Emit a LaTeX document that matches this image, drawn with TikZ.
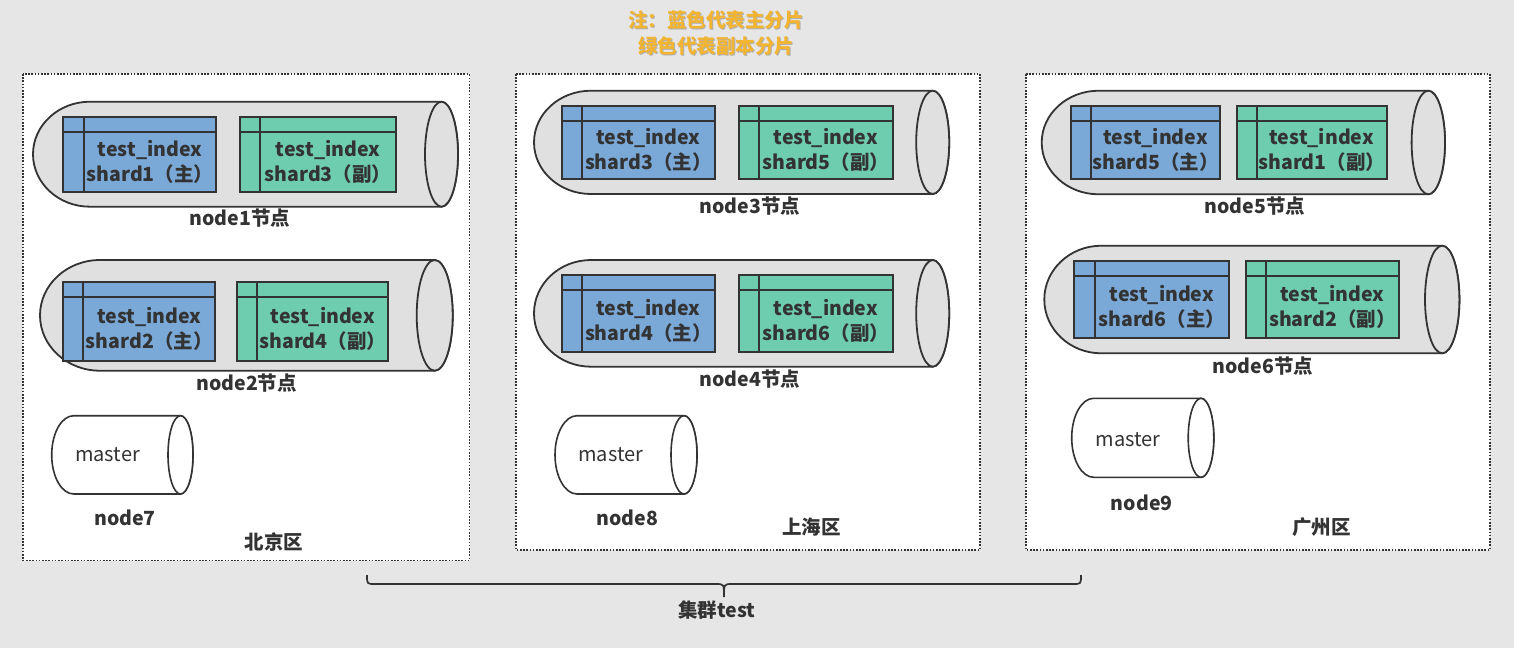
\documentclass[tikz,border=0pt]{standalone}
\usepackage{fontspec}
\setmainfont{Noto Sans CJK SC}
\definecolor{bgc}{HTML}{E6E6E6}
\definecolor{ink}{HTML}{333333}
\definecolor{cylc}{HTML}{E0E0E0}
\definecolor{blu}{HTML}{7AA9D8}
\definecolor{grn}{HTML}{6ECCAF}
\definecolor{noteo}{HTML}{F2B431}
\definecolor{shad}{HTML}{B0B0B0}
\tikzset{
  panel/.style={draw=ink, fill=white, line width=1.6pt, dash pattern=on 1.6pt off 1.6pt},
  cylst/.style={draw=ink, fill=cylc, line width=1.8pt},
  mcylst/.style={draw=ink, fill=white, line width=1.6pt},
  boxst/.style={draw=ink, line width=2pt},
  shtxt/.style={text=ink, align=center, inner sep=0pt, font={\fontsize{19.5}{25}\selectfont\bfseries}},
  lbl/.style={text=ink, inner sep=0pt, font={\fontsize{19.5}{21}\selectfont\bfseries}},
  mtxt/.style={text=ink, inner sep=0pt, font={\fontsize{20}{21}\selectfont}},
  notetxt/.style={inner sep=0pt, align=center, font={\fontsize{19.5}{26}\selectfont\bfseries}},
}
% horizontal cylinder: #1 left x, #2 top y, #3 bottom y, #4 ellipse centre x, #5 ellipse rx, #6 left cap rx, #7 style
\newcommand\hcyl[7]{%
  \pgfmathsetmacro\cymid{(#2+#3)/2}%
  \pgfmathsetmacro\cyry{(#3-#2)/2}%
  \draw[#7] (#1+#6,-#2) -- (#4,-#2) arc[start angle=90,end angle=-90,x radius=#5,y radius=\cyry]
     -- (#1+#6,-#3) arc[start angle=270,end angle=90,x radius=#6,y radius=\cyry] -- cycle;
  \draw[#7] (#4,-\cymid) ellipse[x radius=#5,y radius=\cyry];
}
% shard box: #1 name, #2 x1, #3 y1, #4 x2, #5 y2, #6 vertical x, #7 colour, #8 second line
\newcommand\shardbox[8]{%
  \draw[boxst, fill=#7] (#2,-#3) rectangle (#4,-#5);
  \draw[boxst] (#2,-#3-15) -- (#4,-#3-15);
  \draw[boxst] (#6,-#3) -- (#6,-#5);
  \node[shtxt] (#1) at ({(#6+#4)/2},{-(#3+15+#5)/2}) {test\_index\\#8};
}
\begin{document}
\begin{tikzpicture}[x=1pt,y=1pt]
\fill[bgc] (0,0) rectangle (1514,-648);
\useasboundingbox (0,0) rectangle (1514,-648);

% note
\node[notetxt, text=shad] at (717.2,-34.2) {注：蓝色代表主分片\\绿色代表副本分片};
\node[notetxt, text=noteo] (note) at (716,-33) {注：蓝色代表主分片\\绿色代表副本分片};

% panels
\draw[panel] (23,-74) rectangle (469.5,-560.5);
\draw[panel] (516,-74) rectangle (980,-550);
\draw[panel] (1026,-74) rectangle (1490,-550);

% ---------- 北京区 ----------
\hcyl{33}{101.7}{206.7}{441.5}{16.5}{57}{cylst}
\shardbox{s11}{63.3}{116.7}{216}{192}{84}{blu}{shard1（主）}
\shardbox{s12}{240}{116.7}{396}{192}{260}{grn}{shard3（副）}
\node[lbl] (n1) at (240,-218) {node1节点};

\hcyl{40}{260}{370.7}{434.7}{18}{60}{cylst}
\shardbox{s21}{63.3}{282}{215.3}{360.7}{83.3}{blu}{shard2（主）}
\shardbox{s22}{237.3}{282}{388.3}{360.7}{257.3}{grn}{shard4（副）}
\node[lbl] (n2) at (246.7,-383) {node2节点};

\hcyl{51.7}{415.7}{494}{180.5}{12.5}{22}{mcylst}
\node[mtxt] (m7) at (107.5,-455) {master};
\node[lbl] (n7) at (125,-518.3) {node7};
\node[lbl] (z1) at (274,-541.7) {北京区};

% ---------- 上海区 ----------
\hcyl{534}{90.7}{194}{932.7}{16.5}{57}{cylst}
\shardbox{s31}{561.7}{105.7}{714.7}{179.3}{582}{blu}{shard3（主）}
\shardbox{s32}{738.7}{105.7}{892.7}{179.3}{759}{grn}{shard5（副）}
\node[lbl] (n3) at (750,-206) {node3节点};

\hcyl{534}{260}{366.7}{932.7}{16.5}{57}{cylst}
\shardbox{s41}{561.7}{274.7}{714.7}{352.3}{582}{blu}{shard4（主）}
\shardbox{s42}{738.7}{274.7}{892.7}{352.3}{759}{grn}{shard6（副）}
\node[lbl] (n4) at (750,-379) {node4节点};

\hcyl{555}{415.7}{494}{684}{13}{22}{mcylst}
\node[mtxt] (m8) at (610.7,-455) {master};
\node[lbl] (n8) at (627.3,-518.3) {node8};
\node[lbl] (z2) at (811.7,-527.5) {上海区};

% ---------- 广州区 ----------
\hcyl{1041.7}{90.7}{194.3}{1428.3}{16.7}{57}{cylst}
\shardbox{s51}{1070.7}{105.7}{1220.3}{179.3}{1091}{blu}{shard5（主）}
\shardbox{s52}{1236.7}{105.7}{1386.7}{179.3}{1256.7}{grn}{shard1（副）}
\node[lbl] (n5) at (1255,-206) {node5节点};

\hcyl{1044.3}{245.7}{353.3}{1442.2}{17.2}{57}{cylst}
\shardbox{s61}{1074.3}{260.7}{1228.7}{338.3}{1095}{blu}{shard6（主）}
\shardbox{s62}{1245.7}{260.7}{1399}{338.3}{1266}{grn}{shard2（副）}
\node[lbl] (n6) at (1263,-366) {node6节点};

\hcyl{1071.7}{398.3}{477.3}{1201}{12.8}{22}{mcylst}
\node[mtxt] (m9) at (1128.3,-439.3) {master};
\node[lbl] (n9) at (1141.7,-503) {node9};
\node[lbl] (z3) at (1321.7,-526.7) {广州区};

% ---------- brace ----------
\coordinate (bl) at (367,-575);
\coordinate (br) at (1081,-575);
\coordinate (bt) at (724,-597);
\draw[ink, line width=1.7pt] (bl) .. controls (367,-584) .. (375,-584) -- (716,-584)
   .. controls (724,-584) .. (bt) .. controls (724,-584) .. (732,-584) -- (1073,-584)
   .. controls (1081,-584) .. (br);
\node[lbl] (cl) at (717,-610) {集群test};
\end{tikzpicture}
\end{document}
